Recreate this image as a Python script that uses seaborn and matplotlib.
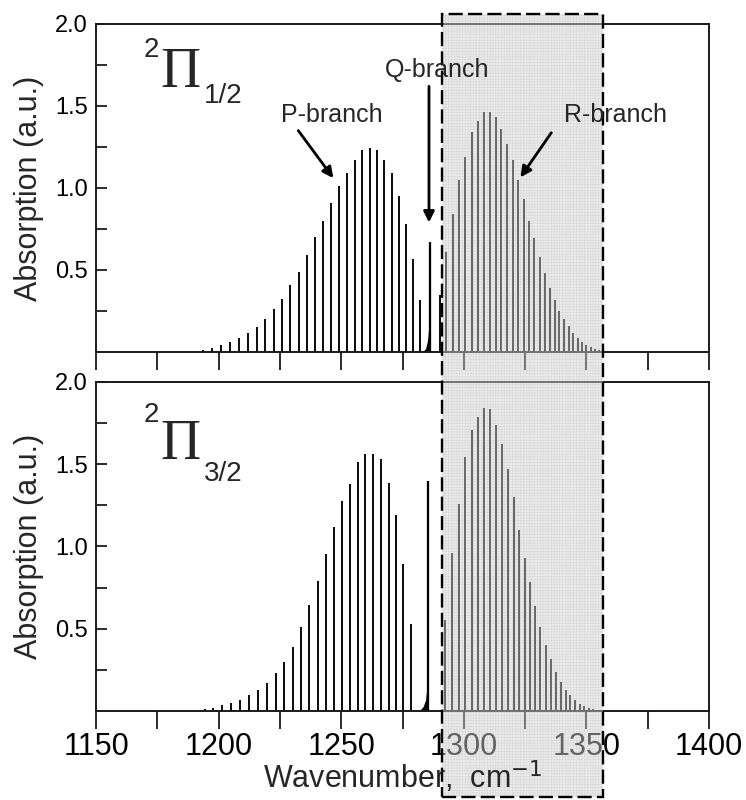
import matplotlib
matplotlib.use("Agg")
import matplotlib.pyplot as plt
import matplotlib.transforms as mtransforms
from matplotlib.patches import Rectangle
from matplotlib.text import Annotation
import seaborn as sns

# ---------------- data ----------------
# 2Pi_1/2 (top panel)
top_p_wn = [1189.8, 1193.6, 1197.3, 1200.9, 1204.6, 1208.3, 1212.0, 1215.5, 1219.0, 1222.4,
            1225.9, 1229.2, 1232.6, 1236.1, 1239.5, 1242.7, 1246.0, 1249.1, 1252.2, 1255.5,
            1258.5, 1261.6, 1264.8, 1267.6, 1270.6, 1273.5, 1276.5, 1279.3, 1282.2]
top_p_abs = [0.008, 0.014, 0.026, 0.04, 0.059, 0.083, 0.116, 0.152, 0.20, 0.26,
             0.325, 0.41, 0.49, 0.59, 0.70, 0.80, 0.91, 1.01, 1.09, 1.17,
             1.23, 1.245, 1.23, 1.17, 1.09, 0.95, 0.78, 0.57, 0.32]
top_q_wn = [1286.3]
top_q_abs = [0.67]
top_qenv_wn = [1283.0, 1284.4, 1285.2, 1285.7, 1286.1]
top_qenv_abs = [0.0, 0.02, 0.07, 0.15, 0.25]
top_r_wn = [1290.4, 1292.8, 1295.4, 1298.0, 1300.6, 1303.2, 1305.8, 1308.2, 1310.5, 1313.0,
            1315.3, 1317.6, 1319.9, 1322.3, 1324.6, 1326.7, 1328.8, 1331.0, 1333.0, 1335.1,
            1337.0, 1338.9, 1340.8, 1342.7, 1344.6, 1346.4, 1348.1, 1349.9, 1351.7, 1353.4, 1355.1]
top_r_abs = [0.35, 0.61, 0.84, 1.05, 1.19, 1.34, 1.41, 1.465, 1.465, 1.43,
             1.36, 1.27, 1.17, 1.05, 0.93, 0.80, 0.695, 0.58, 0.48, 0.39,
             0.32, 0.25, 0.20, 0.156, 0.116, 0.087, 0.061, 0.045, 0.03, 0.02, 0.014]

# 2Pi_3/2 (bottom panel)
bot_p_wn = [1194.3, 1197.8, 1201.5, 1205.2, 1208.8, 1212.5, 1216.2, 1219.7, 1223.3, 1226.8,
            1230.3, 1233.6, 1237.0, 1240.4, 1243.8, 1247.1, 1250.4, 1253.6, 1256.9, 1259.9,
            1263.0, 1266.2, 1269.3, 1272.4, 1275.3, 1278.4]
bot_p_abs = [0.01, 0.02, 0.035, 0.049, 0.069, 0.096, 0.13, 0.173, 0.228, 0.297,
             0.39, 0.508, 0.642, 0.79, 0.955, 1.12, 1.276, 1.382, 1.514, 1.563,
             1.565, 1.53, 1.386, 1.193, 0.892, 0.528]
bot_q_wn = [1285.5]
bot_q_abs = [1.40]
bot_qenv_wn = [1281.7, 1283.3, 1284.4, 1285.1, 1285.5]
bot_qenv_abs = [0.0, 0.024, 0.065, 0.167, 0.30]
bot_r_wn = [1292.4, 1295.2, 1298.0, 1300.6, 1303.2, 1305.8, 1308.2, 1310.7, 1313.3, 1315.7,
            1318.0, 1320.5, 1322.7, 1325.0, 1327.0, 1329.1, 1331.1, 1333.4, 1335.6, 1337.6,
            1339.7, 1341.6, 1343.5, 1345.4, 1347.3, 1349.1, 1350.9, 1352.5, 1354.3]
bot_r_abs = [0.553, 0.959, 1.258, 1.543, 1.707, 1.789, 1.841, 1.833, 1.736, 1.626,
             1.472, 1.299, 1.102, 0.929, 0.782, 0.638, 0.51, 0.40, 0.313, 0.234,
             0.177, 0.13, 0.098, 0.069, 0.045, 0.028, 0.018, 0.01, 0.006]

x_ticks = [1150, 1175, 1200, 1225, 1250, 1275, 1300, 1325, 1350, 1375, 1400]
x_tick_labels = ["1150", "", "1200", "", "1250", "", "1300", "", "1350", "", "1400"]
y_ticks = [0.5, 1.0, 1.5, 2.0]
y_tick_labels = ["0.5", "1.0", "1.5", "2.0"]
y_minor = [0.25, 0.75, 1.25, 1.75]
shade_range = [1291.0, 1356.7]

# ---------------- style ----------------
sns.set_theme(style="ticks")
plt.rcParams["font.family"] = ["Liberation Sans", "DejaVu Sans"]
plt.rcParams["axes.edgecolor"] = "#1a1a1a"
plt.rcParams["hatch.linewidth"] = 0.4

fig = plt.figure(figsize=(7.46, 8.0), dpi=100)
ax_top = fig.add_axes([0.1287, 0.56, 0.8217, 0.41])
ax_bot = fig.add_axes([0.1287, 0.1113, 0.8217, 0.4112])

LW = 1.35

def draw_panel(ax, p_wn, p_abs, q_wn, q_abs, qe_wn, qe_abs, r_wn, r_abs):
    ax.vlines(p_wn, 0, p_abs, color="black", lw=LW)
    ax.vlines(r_wn, 0, r_abs, color="black", lw=LW)
    ax.vlines(q_wn, 0, q_abs, color="black", lw=LW + 0.3)
    ax.fill_between(qe_wn, 0, qe_abs, color="black", lw=0)
    ax.set_xlim(1150, 1400)
    ax.set_ylim(0, 2.0)
    ax.set_xticks(x_ticks)
    ax.set_yticks(y_ticks)
    ax.set_yticks(y_minor, minor=True)
    ax.set_yticklabels(y_tick_labels, fontsize=17)
    ax.tick_params(axis="x", direction="out", length=13, width=1.3, colors="#1a1a1a",
                   top=False, pad=2, labelcolor="black")
    ax.tick_params(axis="y", which="both", direction="in", length=8, width=1.3,
                   colors="#1a1a1a", right=False, pad=6, labelcolor="black")
    for s in ax.spines.values():
        s.set_linewidth(1.4)
    ax.set_ylabel("Absorption (a.u.)", fontsize=22, labelpad=8)

draw_panel(ax_top, top_p_wn, top_p_abs, top_q_wn, top_q_abs, top_qenv_wn, top_qenv_abs,
           top_r_wn, top_r_abs)
draw_panel(ax_bot, bot_p_wn, bot_p_abs, bot_q_wn, bot_q_abs, bot_qenv_wn, bot_qenv_abs,
           bot_r_wn, bot_r_abs)

ax_top.set_xticklabels([""] * len(x_ticks))
ax_bot.set_xticklabels(x_tick_labels, fontsize=22)

# term symbols
for ax, sub, ys in [(ax_top, "1/2", (1.84, 1.70, 1.56)), (ax_bot, "3/2", (1.80, 1.615, 1.44))]:
    ax.text(1172.5, ys[0], "2", fontsize=20, ha="center", va="center")
    ax.text(1184.5, ys[1], "\u03A0", fontsize=40, ha="center", va="center",
            family=["Liberation Serif", "DejaVu Serif"])
    ax.text(1202.0, ys[2], sub, fontsize=20, ha="center", va="center")

# branch labels and arrows (drawn on top of the shaded box)
arrow = dict(arrowstyle="-|>", color="black", lw=2.0, mutation_scale=16,
             shrinkA=0, shrinkB=0)

def fig_label(ax, x, y, s):
    fig.text(x, y, s, transform=ax.transData, fontsize=18, ha="center", va="center",
             zorder=12)

def fig_arrow(ax, tip, tail):
    a = Annotation("", xy=tip, xytext=tail, xycoords=ax.transData,
                   textcoords=ax.transData, arrowprops=arrow)
    a.set_zorder(12)
    fig.add_artist(a)

fig_label(ax_top, 1246, 1.445, "P-branch")
fig_arrow(ax_top, (1246.8, 1.06), (1232.5, 1.35))
fig_label(ax_top, 1289, 1.72, "Q-branch")
fig_arrow(ax_top, (1285.8, 0.79), (1285.8, 1.62))
fig_label(ax_top, 1362, 1.445, "R-branch")
fig_arrow(ax_top, (1323.1, 1.065), (1335.7, 1.337))

# x-axis title (on top of the box, as in the reference)
fig.text(0.5395, 0.028, "Wavenumber,  cm$^{-1}$", fontsize=22, ha="center",
         va="center", zorder=12)

# shaded (R-branch) region, spanning both panels
trans = mtransforms.blended_transform_factory(ax_bot.transData, fig.transFigure)
y0, y1 = 0.004, 0.9825
shade = Rectangle((shade_range[0], y0), shade_range[1] - shade_range[0], y1 - y0,
                  transform=trans, facecolor=(0.83, 0.83, 0.83, 0.45),
                  edgecolor=(0.55, 0.55, 0.55, 0.22), lw=0, hatch="++++++", zorder=10)
border = Rectangle((shade_range[0], y0), shade_range[1] - shade_range[0], y1 - y0,
                   transform=trans, facecolor="none", edgecolor="black", lw=1.7,
                   linestyle=(0, (6, 2.2)), zorder=11)
fig.patches.extend([shade, border])

fig.savefig("out.png", dpi=100)
